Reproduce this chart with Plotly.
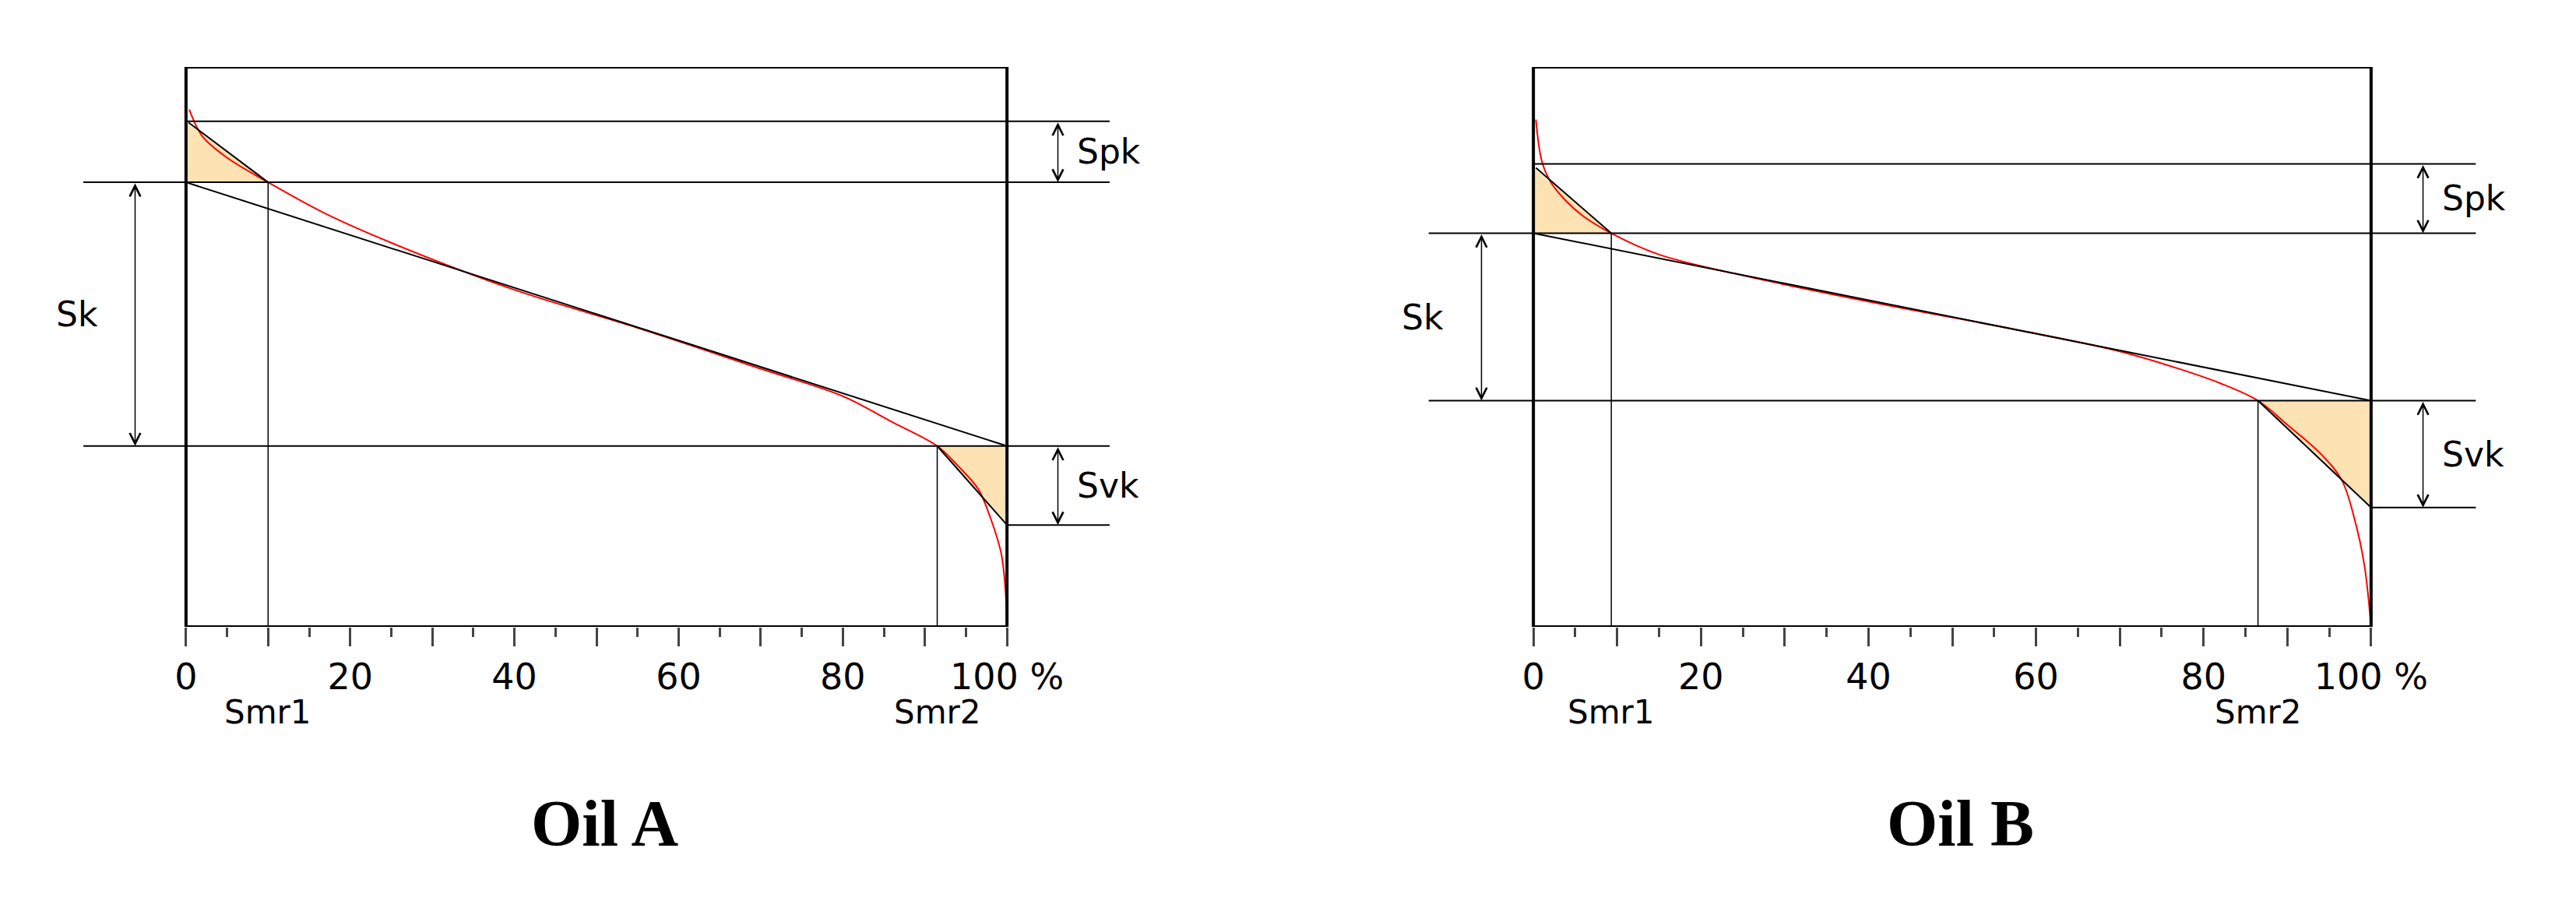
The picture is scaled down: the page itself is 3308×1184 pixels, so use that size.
import plotly.graph_objects as go

# ---- data (x: material ratio %, y: height, 0 = box bottom, 100 = box top) ----
A_curve_x = [0.4, 2, 5, 10, 17, 25, 40, 55, 70, 80, 86, 91.5, 94, 96.5, 98, 99.3, 99.8, 100]
A_curve_y = [92.4, 87.6, 83.8, 79.4, 73.8, 68.6, 60.2, 53.4, 46.1, 41.2, 36.6, 32.3, 28.8, 24.6, 19.4, 13.1, 6.8, 0]
A_smr1, A_smr2 = 10.0, 91.5
A_spk_top, A_core_top, A_core_bot, A_svk_bot = 90.3, 79.4, 32.3, 18.2
A_spk_start = 90.1

B_curve_x = [0.3, 1, 2, 4, 6, 9.3, 15, 24, 40, 60, 70, 76, 82, 86.5, 90, 94, 96.5, 98, 99.2, 100]
B_curve_y = [90.6, 83.2, 79.6, 75.9, 73.3, 70.3, 66.5, 63.1, 58.1, 52.4, 49.2, 46.6, 43.5, 40.4, 36.1, 30.9, 26.2, 19.4, 11.0, 0]
B_smr1, B_smr2 = 9.3, 86.5
B_spk_top, B_core_top, B_core_bot, B_svk_bot = 82.7, 70.3, 40.4, 21.3
B_spk_start = 82.0

titles = ["Oil A", "Oil B"]
tick_vals = [0, 10, 20, 30, 40, 50, 60, 70, 80, 90, 100]
tick_text = ["0", "", "20", "", "40", "", "60", "", "80", "", "100 %"]
minor_vals = [5, 15, 25, 35, 45, 55, 65, 75, 85, 95]

W, H = 3308, 1184
fill_col = "#FDE2B3"

fig = go.Figure()
panels = [
    dict(xa="x", ya="y", cx=A_curve_x, cy=A_curve_y, s1=A_smr1, s2=A_smr2, spt=A_spk_top, ct=A_core_top,
         cb=A_core_bot, svb=A_svk_bot, sps=A_spk_start, dom=[20 / W, 1496 / W], title=titles[0]),
    dict(xa="x2", ya="y2", cx=B_curve_x, cy=B_curve_y, s1=B_smr1, s2=B_smr2, spt=B_spk_top, ct=B_core_top,
         cb=B_core_bot, svb=B_svk_bot, sps=B_spk_start, dom=[1746 / W, 3252 / W], title=titles[1]),
]
ydom = [1 - 797 / H, 1 - 78 / H]
shapes, annots = [], []
for i, p in enumerate(panels):
    xa, ya = p["xa"], p["ya"]
    fig.add_trace(go.Scatter(x=[0, 0, p["s1"], 0], y=[p["sps"], p["ct"], p["ct"], p["sps"]], fill="toself",
                             fillcolor=fill_col, line=dict(width=0), mode="lines", xaxis=xa, yaxis=ya,
                             showlegend=False, hoverinfo="skip"))
    fig.add_trace(go.Scatter(x=[p["s2"], 100, 100, p["s2"]], y=[p["cb"], p["cb"], p["svb"], p["cb"]], fill="toself",
                             fillcolor=fill_col, line=dict(width=0), mode="lines", xaxis=xa, yaxis=ya,
                             showlegend=False, hoverinfo="skip"))
    def ln(x0, y0, x1, y1, w=2, c="black"):
        shapes.append(dict(type="line", xref=xa, yref=ya, x0=x0, y0=y0, x1=x1, y1=y1, line=dict(color=c, width=w)))
    ln(0, p["spt"], 112.5, p["spt"])
    ln(-12.5, p["ct"], 112.5, p["ct"])
    ln(-12.5, p["cb"], 112.5, p["cb"])
    ln(100, p["svb"], 112.5, p["svb"])
    ln(0, p["ct"], 100, p["cb"])
    ln(0.3, p["sps"], p["s1"], p["ct"])
    ln(p["s2"], p["cb"], 100, p["svb"])
    ln(p["s1"], 0, p["s1"], p["ct"], w=1.5)
    ln(p["s2"], 0, p["s2"], p["cb"], w=1.5)
    shapes.append(dict(type="rect", xref=xa, yref=ya, x0=0, y0=0, x1=100, y1=100, line=dict(color="black", width=4)))
    fig.add_trace(go.Scatter(x=p["cx"], y=p["cy"], mode="lines", line=dict(color="red", width=2, shape="spline"),
                             xaxis=xa, yaxis=ya, showlegend=False, hoverinfo="skip"))
    for ax_x, y0, y1 in [(106.2, p["spt"], p["ct"]), (-6.2, p["ct"], p["cb"]), (106.2, p["cb"], p["svb"])]:
        annots.append(dict(xref=xa, yref=ya, axref=xa, ayref=ya, x=ax_x, y=y1, ax=ax_x, ay=y0, text="",
                           showarrow=True, arrowhead=5, startarrowhead=5, arrowside="end+start",
                           arrowsize=1.8, startarrowsize=1.8, arrowwidth=1.5, arrowcolor="black"))
    f = dict(family="DejaVu Sans", size=44, color="black")
    annots.append(dict(xref=xa, yref=ya, x=108.3, y=(p["spt"] + p["ct"]) / 2, text="Spk", showarrow=False,
                       xanchor="left", font=f))
    annots.append(dict(xref=xa, yref=ya, x=108.3, y=(p["cb"] + p["svb"]) / 2, text="Svk", showarrow=False,
                       xanchor="left", font=f))
    annots.append(dict(xref=xa, yref=ya, x=-10.5, y=(p["ct"] + p["cb"]) / 2, text="Sk", showarrow=False,
                       xanchor="right", font=f))
    sf = dict(family="DejaVu Sans", size=42, color="black")
    annots.append(dict(xref=xa, yref="paper", x=p["s1"], y=1 - 933 / H, text="Smr1", showarrow=False, font=sf))
    annots.append(dict(xref=xa, yref="paper", x=p["s2"], y=1 - 933 / H, text="Smr2", showarrow=False, font=sf))
    annots.append(dict(xref=xa, yref="paper", x=51, y=1 - 1098 / H, text="<b>" + p["title"] + "</b>",
                       showarrow=False, font=dict(family="Liberation Serif", size=84, color="black")))

axis_x = dict(range=[-20, 120], showgrid=False, zeroline=False, showline=False, tickmode="array",
              tickvals=tick_vals, ticktext=tick_text, ticks="outside", ticklen=24, tickwidth=3,
              tickfont=dict(family="DejaVu Sans", size=46, color="black"),
              minor=dict(tickmode="array", tickvals=minor_vals, ticks="outside", ticklen=12, tickwidth=3,
                         showgrid=False))
axis_y = dict(range=[0, 100], visible=False, domain=ydom)
fig.update_layout(
    width=W, height=H, margin=dict(l=0, r=0, t=0, b=0), plot_bgcolor="white", paper_bgcolor="white",
    xaxis=dict(axis_x, domain=panels[0]["dom"], anchor="y"),
    xaxis2=dict(axis_x, domain=panels[1]["dom"], anchor="y2"),
    yaxis=dict(axis_y, anchor="x"), yaxis2=dict(axis_y, anchor="x2"),
    shapes=shapes, annotations=annots,
)
fig.write_html("out.html")
